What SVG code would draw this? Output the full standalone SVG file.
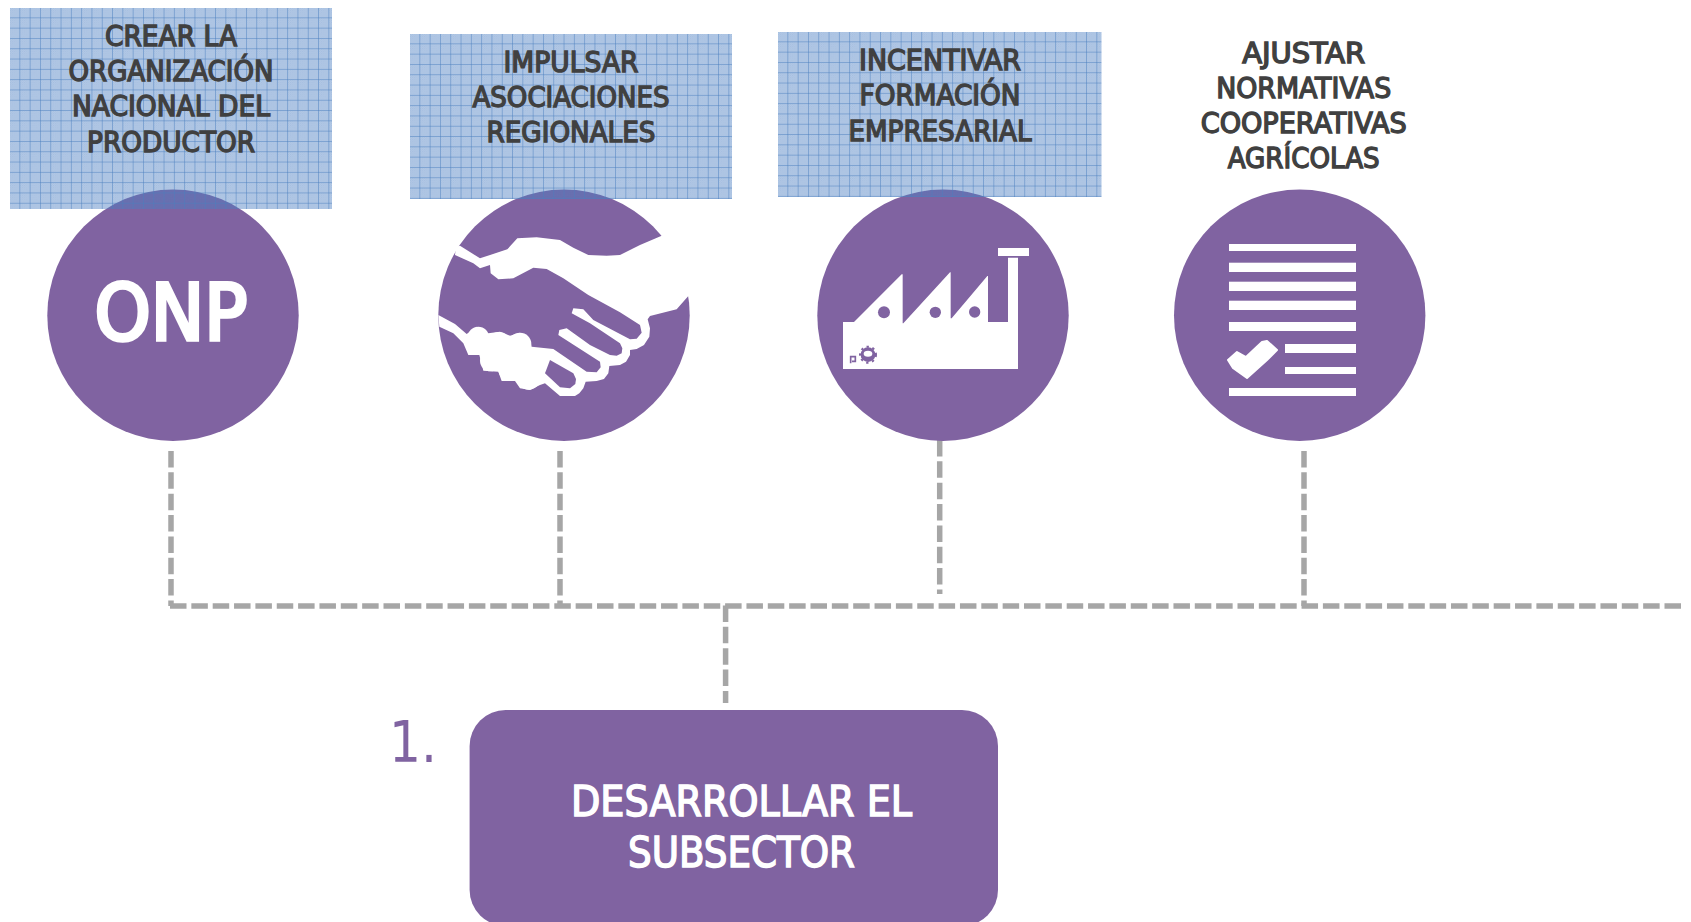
<svg xmlns="http://www.w3.org/2000/svg" width="1691" height="922" viewBox="0 0 1691 922">
<style>
.t{font-family:"DejaVu Sans Condensed","DejaVu Sans",sans-serif;font-weight:400;font-size:28px;fill:#404040;stroke:#404040;stroke-width:1.300}
.w{fill:#fff;stroke:#fff;stroke-width:1.400;font-family:"DejaVu Sans Condensed","DejaVu Sans",sans-serif}
.c{fill:#8063A1}
.d{fill:none;stroke:#A6A6A6;stroke-width:5.500;stroke-dasharray:16.500 4.850}
.i{fill:#fff}
</style>
<defs>
<pattern id="fine" width="2" height="2" patternUnits="userSpaceOnUse">
<rect x="0" y="0" width="1" height="1" fill="#4A7EC0" fill-opacity=".18"/>
<rect x="1" y="1" width="1" height="1" fill="#4A7EC0" fill-opacity=".18"/>
</pattern>
<pattern id="grid" width="10.300" height="10.300" patternUnits="userSpaceOnUse">
<rect width="10.300" height="10.300" fill="#4A7EC0" fill-opacity=".4"/>
<rect width="10.300" height="10.300" fill="url(#fine)"/>
<rect x="9.500" width="1" height="10.300" fill="#4A7EC0" fill-opacity=".6"/>
<rect y="9.500" width="10.300" height="1" fill="#4A7EC0" fill-opacity=".6"/>
</pattern>
</defs>
<rect width="1691" height="922" fill="#fff"/>
<g id="connectors">
<path class="d" d="M170 606H1681"/>
<path class="d" d="M171 451V606"/>
<path class="d" d="M560 451V606"/>
<path class="d" d="M939.700 440V594"/>
<path class="d" d="M1304 451V606"/>
<path class="d" d="M725.600 605.500V703"/>
</g>
<g id="node-onp">
<circle class="c" cx="173" cy="315.200" r="125.700"/>
<g transform="translate(10 8)"><rect width="322" height="201" fill="url(#grid)"/></g>
<text class="t" x="171" y="46" text-anchor="middle" textLength="132" lengthAdjust="spacingAndGlyphs">CREAR LA</text>
<text class="t" x="171" y="81" text-anchor="middle" textLength="205" lengthAdjust="spacingAndGlyphs">ORGANIZACIÓN</text>
<text class="t" x="171" y="116" text-anchor="middle" textLength="198" lengthAdjust="spacingAndGlyphs">NACIONAL DEL</text>
<text class="t" x="171" y="152" text-anchor="middle" textLength="168" lengthAdjust="spacingAndGlyphs">PRODUCTOR</text>
<text class="w" x="171" y="340" text-anchor="middle" font-size="78" style="stroke-width:3.500" textLength="153" lengthAdjust="spacingAndGlyphs">ONP</text>
</g>
<g id="node-asociaciones">
<circle class="c" cx="564" cy="315.200" r="125.700"/>
<g transform="translate(410 34)"><rect width="322" height="165" fill="url(#grid)"/></g>
<text class="t" x="571" y="72" text-anchor="middle" textLength="135" lengthAdjust="spacingAndGlyphs">IMPULSAR</text>
<text class="t" x="571" y="107" text-anchor="middle" textLength="197" lengthAdjust="spacingAndGlyphs">ASOCIACIONES</text>
<text class="t" x="571" y="142" text-anchor="middle" textLength="169" lengthAdjust="spacingAndGlyphs">REGIONALES</text>
<g transform="translate(420 180) scale(.33333)">
<path class="i" d="M120 197L180 235L262 208L292 175L350 172L420 180L460 203L505 225L560 227L600 225L660 195L725 167L820 167L820 345L805 348L770 388L690 408L683 418L690 445L688 470L672 495L650 507L630 510L630 525L618 545L600 555L568 558L565 580L552 597L530 603L497 605L490 625L478 640L465 648L420 648L375 610L360 615L330 630L300 625L285 603L245 603L235 575L190 572L178 525L145 525L130 490L100 460L58 440L55 405L105 432L140 462L170 440L205 460L240 455L270 467L300 458L330 480L335 500L400 507L500 575L530 577L542 562L540 545L415 465L418 450L440 445L510 495L570 525L590 527L605 520L607 505L600 490L510 430L455 400L460 385L490 388L520 420L630 478L650 476L665 458L660 435L600 397L505 345L430 295L380 267L340 263L280 295L235 298L212 280L210 255L180 265L160 250L105 225L108 200Z"/>
<circle class="i" cx="175" cy="472" r="32"/>
<circle class="i" cx="237" cy="490" r="34"/>
<circle class="i" cx="300" cy="492" r="34"/>
<circle class="i" cx="212" cy="542" r="32"/>
<circle class="i" cx="270" cy="568" r="35"/>
<circle class="i" cx="326" cy="594" r="35"/>
<circle class="i" cx="350" cy="545" r="35"/>
<path class="c" d="M375 580L390 540L460 580L468 597L466 612L450 625L420 622Z"/>
</g>
</g>
<g id="node-empresarial">
<circle class="c" cx="943" cy="315.200" r="125.700"/>
<g transform="translate(778 32)"><rect width="323.500" height="165" fill="url(#grid)"/></g>
<text class="t" x="940" y="70" text-anchor="middle" textLength="162" lengthAdjust="spacingAndGlyphs">INCENTIVAR</text>
<text class="t" x="940" y="105" text-anchor="middle" textLength="161" lengthAdjust="spacingAndGlyphs">FORMACIÓN</text>
<text class="t" x="940" y="140.700" text-anchor="middle" textLength="183" lengthAdjust="spacingAndGlyphs">EMPRESARIAL</text>
<g transform="translate(800 180) scale(.33333)">
<path class="i" d="M129 426H162L305 283H308V430H310L450 277H452V415H455L562 288H564V426H624V233H654V567H129Z"/>
<rect class="i" x="594" y="204" width="93" height="24"/>
<circle class="c" cx="252" cy="397" r="18"/>
<circle class="c" cx="406" cy="397" r="17"/>
<circle class="c" cx="524" cy="396" r="17"/>
<circle class="c" cx="204" cy="524" r="22"/>
<circle cx="204" cy="524" r="24" fill="none" stroke="#8063A1" stroke-width="6" stroke-dasharray="7 11"/>
<ellipse class="i" cx="204" cy="521" rx="13" ry="9"/>
<path fill="none" stroke="#8063A1" stroke-width="5" d="M152 550V530H166V544H156"/>
</g>
</g>
<g id="node-normativas">
<circle class="c" cx="1299.700" cy="315.200" r="125.700"/>
<text class="t" x="1303.700" y="62.700" text-anchor="middle" textLength="123" lengthAdjust="spacingAndGlyphs">AJUSTAR</text>
<text class="t" x="1303.700" y="97.700" text-anchor="middle" textLength="175" lengthAdjust="spacingAndGlyphs">NORMATIVAS</text>
<text class="t" x="1303.700" y="132.500" text-anchor="middle" textLength="206" lengthAdjust="spacingAndGlyphs">COOPERATIVAS</text>
<text class="t" x="1303.700" y="167.700" text-anchor="middle" textLength="152" lengthAdjust="spacingAndGlyphs">AGRÍCOLAS</text>
<rect class="i" x="1229" y="244" width="127" height="7"/>
<rect class="i" x="1229" y="262.700" width="127" height="9.300"/>
<rect class="i" x="1229" y="281.700" width="127" height="9.300"/>
<rect class="i" x="1229" y="300.700" width="127" height="9.300"/>
<rect class="i" x="1229" y="322" width="127" height="9"/>
<rect class="i" x="1285" y="344" width="71" height="9"/>
<rect class="i" x="1285" y="367" width="71" height="7"/>
<rect class="i" x="1229" y="388" width="127" height="8"/>
<path class="i" stroke="#fff" stroke-width="2" stroke-linejoin="round" d="M1228 360L1237 352L1246 357L1262 342L1267 341L1277 350L1267 360L1247 378L1233 368Z"/>
</g>
<g id="node-subsector">
<rect class="c" x="469.600" y="710" width="528.400" height="216" rx="36"/>
<text class="c" x="413" y="762" text-anchor="middle" font-family="DejaVu Sans Condensed, DejaVu Sans, sans-serif" font-size="57" textLength="48" lengthAdjust="spacingAndGlyphs">1.</text>
<text class="w" x="741.500" y="815.700" text-anchor="middle" font-size="42" textLength="341" lengthAdjust="spacingAndGlyphs">DESARROLLAR EL</text>
<text class="w" x="741.500" y="866.700" text-anchor="middle" font-size="42" textLength="227" lengthAdjust="spacingAndGlyphs">SUBSECTOR</text>
</g>
</svg>
